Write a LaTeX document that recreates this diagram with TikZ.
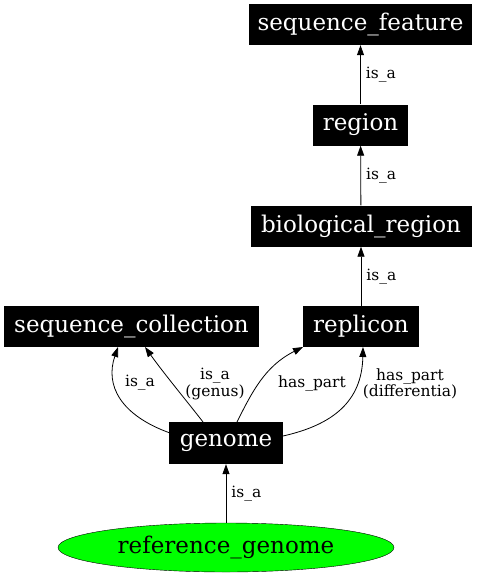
\documentclass[tikz,border=0pt]{standalone}
\usepackage{fontspec}
\setmainfont{DejaVu Serif}
\usetikzlibrary{arrows.meta,shapes.geometric}
\begin{document}
\begin{tikzpicture}[x=1pt,y=-1pt,
  term/.style={fill=black,text=white,inner sep=0pt,font=\fontsize{23}{25}\selectfont},
  lbl/.style={font=\fontsize{15.5}{16.5}\selectfont,align=center,inner sep=0pt},
  rel/.style={draw=black,line width=0.8pt,-{Triangle[length=10pt,width=7pt]}}]
\useasboundingbox (0,0) rectangle (478,576);
\node[term,minimum width=223pt,minimum height=41pt] (sf) at (360.5,24.5) {sequence\_feature};
\node[term,minimum width=95pt,minimum height=41pt] (reg) at (360.5,125) {region};
\node[term,minimum width=221pt,minimum height=41pt] (bio) at (361,226) {biological\_region};
\node[term,minimum width=116pt,minimum height=41pt] (rep) at (361,326.5) {replicon};
\node[term,minimum width=255pt,minimum height=41pt] (sc) at (131.5,326.5) {sequence\_collection};
\node[term,minimum width=114pt,minimum height=42pt] (gen) at (226,443) {genome};
\node[draw=black,fill=green,ellipse,inner sep=0pt,minimum width=336pt,minimum height=49pt,font=\fontsize{23}{25}\selectfont] (ref) at (226,547.5) {reference\_genome};
\draw[rel] (reg) -- node[lbl,anchor=west,xshift=5pt] {is\_a} (sf);
\draw[rel] (bio) -- node[lbl,anchor=west,xshift=5pt] {is\_a} (reg);
\draw[rel] (rep) -- node[lbl,anchor=west,xshift=5pt] {is\_a} (bio);
\draw[rel] (ref) -- node[lbl,anchor=west,xshift=5pt] {is\_a} (gen);
\coordinate (g1) at (170,433);
\coordinate (g2) at (203,422);
\coordinate (g3) at (237,422);
\coordinate (g4) at (283,436);
\coordinate (s1) at (118,347);
\coordinate (s2) at (145,347);
\coordinate (r1) at (303,347);
\coordinate (r2) at (363,347);
\draw[rel] (g1) .. controls (120,415) and (105,385) .. (s1);
\draw[rel] (g2) .. controls (190,405) and (165,375) .. (s2);
\draw[rel] (g3) .. controls (252,392) and (265,366) .. (r1);
\draw[rel] (g4) .. controls (332,425) and (362,402) .. (r2);
\node[lbl] (l1) at (140,383) {is\_a};
\node[lbl] (l2) at (215,384) {is\_a\\(genus)};
\node[lbl] (l3) at (312,383) {has\_part};
\node[lbl] (l4) at (410,384) {has\_part\\(differentia)};
\end{tikzpicture}
\end{document}
